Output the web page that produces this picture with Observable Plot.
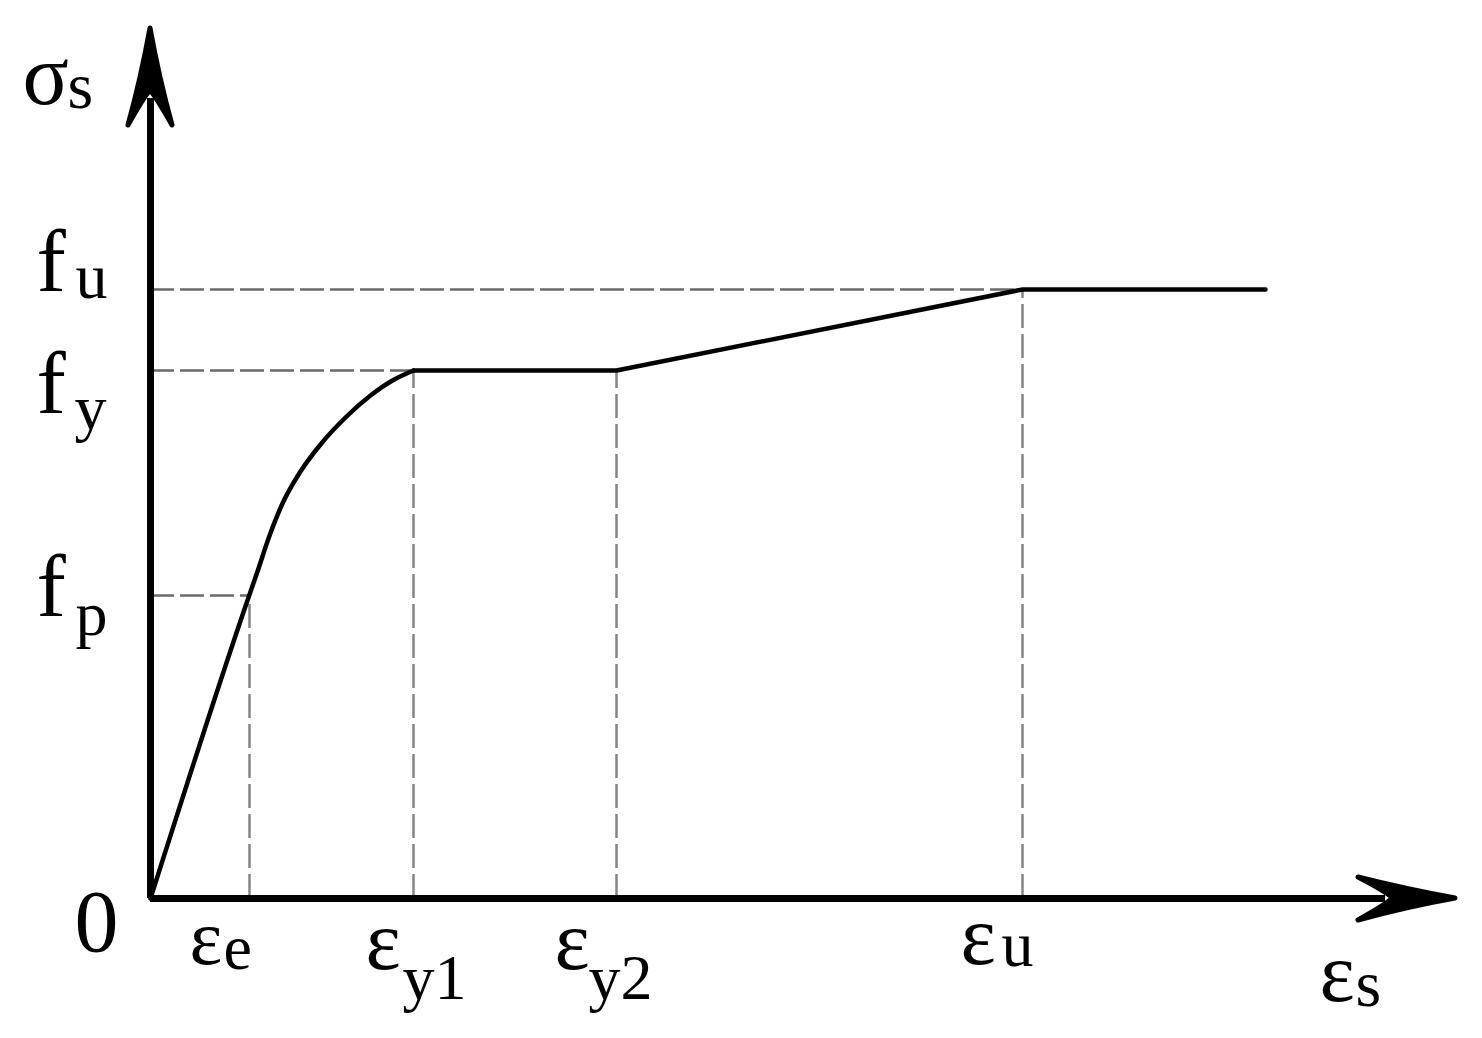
<!DOCTYPE html>
<html>
<head>
<meta charset="utf-8">
<script src="https://cdn.jsdelivr.net/npm/d3@7"></script>
<script src="https://cdn.jsdelivr.net/npm/@observablehq/plot@0.6"></script>
<style>
  html, body { margin: 0; padding: 0; background: #fff; }
  #chart svg { display: block; }
</style>
</head>
<body>
<div id="chart"></div>
<script>
// ---- data (arbitrary strain / stress units) ----
const strainMarks = [
  {name: "e",  x: 0.99},
  {name: "y1", x: 2.63},
  {name: "y2", x: 4.66},
  {name: "u",  x: 8.72}
];
const stressMarks = [
  {name: "p", y: 3.03},
  {name: "y", y: 5.28},
  {name: "u", y: 6.09}
];
// elastic + hardening curve (origin -> fy)
const curveX = [0, 0.98, 1.07, 1.18, 1.32, 1.50, 1.70, 1.95, 2.20, 2.42, 2.63];
const curveY = [0, 3.01, 3.27, 3.60, 3.95, 4.27, 4.54, 4.81, 5.03, 5.18, 5.28];
// piecewise linear part (fy plateau, hardening, fu plateau)
const linX = [2.63, 4.66, 8.72, 11.15];
const linY = [5.28, 5.28, 6.09, 6.09];
// axis extents (arrow tips)
const xAxisMax = 13.05;
const yAxisMax = 8.70;

const curve = curveX.map((x, i) => ({x, y: curveY[i]}));
const lin = linX.map((x, i) => ({x, y: linY[i]}));
const sx = Object.fromEntries(strainMarks.map(d => [d.name, d.x]));
const sy = Object.fromEntries(stressMarks.map(d => [d.name, d.y]));

// dashed guides
const hGuides = [
  {y: sy.p, x2: sx.e},
  {y: sy.y, x2: sx.y1},
  {y: sy.u, x2: sx.u}
];
const vGuides = [
  {x: sx.e,  y2: sy.p},
  {x: sx.y1, y2: sy.y},
  {x: sx.y2, y2: sy.y},
  {x: sx.u,  y2: sy.u}
];

const FONT = "Liberation Serif";

function label(x, y, text, size, dx, dy) {
  return Plot.text([{x, y, t: text}], {
    x: "x", y: "y", text: "t",
    textAnchor: "start", lineAnchor: "bottom",
    dx, dy, fontSize: size, fontFamily: FONT, fill: "#000"
  });
}

// arrow heads via the plot's scales
function arrowHeads(index, scales) {
  const {x, y} = scales;
  const ox = x(0), oy = y(0);
  const g = d3.create("svg:g");
  const ty = y(yAxisMax);
  g.append("path")
    .attr("d", `M${ox},${ty} Q${ox - 9},${ty + 50} ${ox - 22},${ty + 97} Q${ox - 7},${ty + 70} ${ox},${ty + 62} Q${ox + 7},${ty + 70} ${ox + 22},${ty + 97} Q${ox + 9},${ty + 50} ${ox},${ty} Z`)
    .attr("fill", "#000").attr("stroke", "#000").attr("stroke-width", 5).attr("stroke-linejoin", "round");
  const tx = x(xAxisMax);
  g.append("path")
    .attr("d", `M${tx},${oy} Q${tx - 50},${oy - 9} ${tx - 97},${oy - 21} Q${tx - 70},${oy - 7} ${tx - 62},${oy} Q${tx - 70},${oy + 7} ${tx - 97},${oy + 22} Q${tx - 50},${oy + 9} ${tx},${oy} Z`)
    .attr("fill", "#000").attr("stroke", "#000").attr("stroke-width", 5).attr("stroke-linejoin", "round");
  return g.node();
}

const plot = Plot.plot({
  width: 1482,
  height: 1038,
  marginLeft: 150,
  marginRight: 32,
  marginTop: 28,
  marginBottom: 140,
  x: {domain: [0, 13], axis: null},
  y: {domain: [0, 8.7], axis: null},
  style: {background: "#fff", overflow: "visible"},
  marks: [
    // dashed guides
    Plot.ruleY(hGuides, {y: "y", x1: 0, x2: "x2", stroke: "#6a6a6a", strokeWidth: 2.5, strokeDasharray: "24,6"}),
    Plot.ruleX(vGuides, {x: "x", y1: 0, y2: "y2", stroke: "#858585", strokeWidth: 2.5, strokeDasharray: "24,6"}),
    // axes shafts
    Plot.ruleX([0], {y1: 0, y2: yAxisMax - 0.7, stroke: "#000", strokeWidth: 7}),
    Plot.ruleY([0], {x1: 0, x2: xAxisMax - 0.7, stroke: "#000", strokeWidth: 7}),
    arrowHeads,
    // stress-strain curve
    Plot.line(curve, {x: "x", y: "y", curve: "monotone-x", stroke: "#000", strokeWidth: 4.5}),
    Plot.line(lin, {x: "x", y: "y", stroke: "#000", strokeWidth: 4.5, strokeLinejoin: "round", strokeLinecap: "round"}),
    // y labels
    label(0, yAxisMax, "σ", 86, -128, 75),
    label(0, yAxisMax, "s", 66, -83, 79),
    label(0, sy.u, "f", 88, -114, 1),
    label(0, sy.u, "u", 64, -75, 8),
    label(0, sy.y, "f", 88, -114, 42),
    label(0, sy.y, "y", 64, -76, 58),
    label(0, sy.p, "f", 88, -114, 20),
    label(0, sy.p, "p", 64, -75, 39),
    // x labels
    label(0, 0, "0", 88, -76, 52),
    label(sx.e, 0, "ε", 78, -60, 65),
    label(sx.e, 0, "e", 64, -26, 70),
    label(sx.y1, 0, "ε", 84, -48, 70),
    label(sx.y1, 0, "y1", 64, -11, 100),
    label(sx.y2, 0, "ε", 84, -62, 70),
    label(sx.y2, 0, "y2", 64, -28, 100),
    label(sx.u, 0, "ε", 84, -62, 65),
    label(sx.u, 0, "u", 64, -21, 67),
    label(xAxisMax, 0, "ε", 84, -136, 102),
    label(xAxisMax, 0, "s", 66, -100, 107)
  ]
});
document.getElementById("chart").appendChild(plot);
</script>
</body>
</html>
